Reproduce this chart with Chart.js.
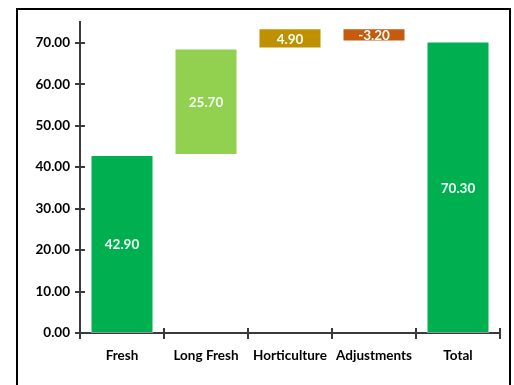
<!DOCTYPE html>
<html>
<head>
<meta charset="utf-8">
<script src="https://cdn.jsdelivr.net/npm/chart.js@4/dist/chart.umd.min.js"></script>
<style>
  html, body { margin: 0; padding: 0; background: #fff; }
  #wrap { position: relative; width: 514px; height: 385px; overflow: hidden; }
  #frame { position: absolute; left: 16px; top: 8px; width: 495px; height: 420px;
           border: 2px solid #000; box-sizing: border-box; pointer-events: none; }
  canvas { position: absolute; left: 0; top: 0; }
</style>
</head>
<body>
<div id="wrap">
  <canvas id="c" width="514" height="385"></canvas>
  <div id="frame"></div>
</div>
<script>
// Waterfall steps and the closing total
const categories = ['Fresh', 'Long Fresh', 'Horticulture', 'Adjustments', 'Total'];
const changes = [42.90, 25.70, 4.90, -3.20, 70.30];
const isTotal = [false, false, false, false, true];
const yTicks = [0, 10, 20, 30, 40, 50, 60, 70];
const yMax = 75;

const barColors = ['#00B050', '#92D050', '#BF9000', '#C55A11', '#00B050'];

// Floating [start, end] ranges from the running total
let running = 0;
const ranges = changes.map((v, i) => {
  if (isTotal[i]) { running = v; return [0, v]; }
  const start = running;
  running += v;
  return [start, running];
});

const AXIS_COLOR = '#3a3a3a';
const FONT = 'Lato, "Liberation Sans", Arial, sans-serif';

// Tick marks that cross both axes
const crossTicks = {
  id: 'crossTicks',
  afterDraw(chart) {
    const ctx = chart.ctx;
    const xs = chart.scales.x, ys = chart.scales.y;
    const area = chart.chartArea;
    ctx.save();
    ctx.strokeStyle = AXIS_COLOR;
    ctx.lineWidth = 2;
    ctx.beginPath();
    ys.ticks.forEach(t => {
      const y = Math.round(ys.getPixelForValue(t.value));
      ctx.moveTo(area.left - 5, y);
      ctx.lineTo(area.left + 5, y);
    });
    const n = categories.length;
    for (let i = 0; i <= n; i++) {
      let x;
      if (i === 0) x = area.left;
      else if (i === n) x = area.right;
      else x = (xs.getPixelForValue(i - 1) + xs.getPixelForValue(i)) / 2;
      x = Math.round(x);
      ctx.moveTo(x, area.bottom - 5);
      ctx.lineTo(x, area.bottom + 6);
    }
    ctx.stroke();
    ctx.restore();
  }
};

// Value labels centred inside each bar
const barLabels = {
  id: 'barLabels',
  afterDatasetsDraw(chart) {
    const ctx = chart.ctx;
    const meta = chart.getDatasetMeta(0);
    ctx.save();
    ctx.fillStyle = '#F4FFF6';
    ctx.font = 'bold 13.5px ' + FONT;
    ctx.textAlign = 'center';
    ctx.textBaseline = 'middle';
    meta.data.forEach((bar, i) => {
      const yMid = (bar.y + bar.base) / 2;
      ctx.fillText(changes[i].toFixed(2), bar.x, yMid + 1);
    });
    ctx.restore();
  }
};

new Chart(document.getElementById('c'), {
  type: 'bar',
  data: {
    labels: categories,
    datasets: [{
      data: ranges,
      backgroundColor: barColors,
      borderColor: 'rgba(255,255,255,0.45)',
      borderWidth: 1,
      borderSkipped: false,
      barPercentage: 0.75,
      categoryPercentage: 1.0
    }]
  },
  options: {
    responsive: false,
    animation: false,
    layout: { padding: { top: 22, right: 14, left: 0, bottom: 0 } },
    plugins: { legend: { display: false }, tooltip: { enabled: false } },
    scales: {
      x: {
        offset: true,
        grid: { display: false, drawTicks: false },
        border: { display: true, color: AXIS_COLOR, width: 2 },
        ticks: { color: '#000', padding: 15, maxRotation: 0,
                 font: { family: FONT, size: 13.5, weight: 'bold' } },
        afterFit(s) { s.height = 52; }
      },
      y: {
        min: 0,
        max: yMax,
        afterBuildTicks(s) { s.ticks = yTicks.map(v => ({ value: v })); },
        grid: { display: false, drawTicks: false },
        border: { display: true, color: AXIS_COLOR, width: 2 },
        ticks: { color: '#000', padding: 10,
                 font: { family: FONT, size: 13.5, weight: 'bold' },
                 callback: v => Number(v).toFixed(2) },
        afterFit(s) { s.width = 80; }
      }
    }
  },
  plugins: [crossTicks, barLabels]
});
</script>
</body>
</html>
